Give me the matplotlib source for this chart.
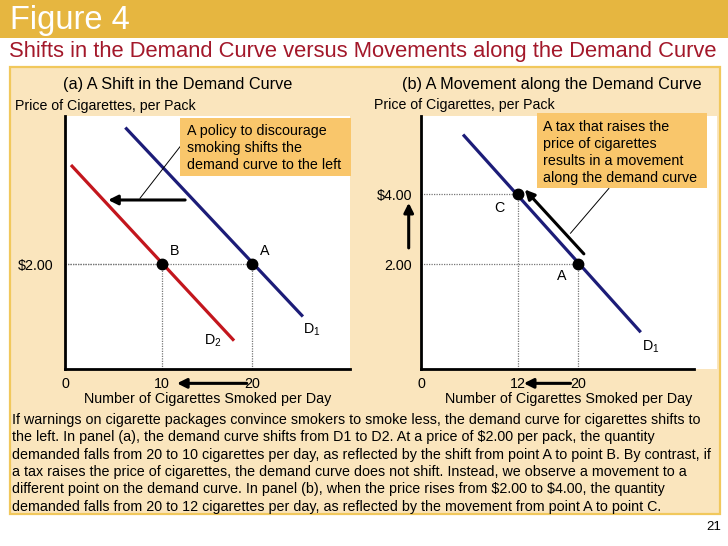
import matplotlib
matplotlib.use('Agg')
import matplotlib.pyplot as plt
from matplotlib.patches import Rectangle

plt.rcParams['font.family'] = ['Liberation Sans', 'DejaVu Sans']

W, H = 728, 546

# panel (a): shift of the demand curve
qty_ticks_a = [0, 10, 20]
price_ticks_a = [2.0]
price_labels_a = ['$2.00']
d1_a_q = [6.0, 25.6]
d1_a_p = [5.9, 0.5]
d2_a_q = [0.0, 18.0]
d2_a_p = [4.83, -0.19]
pts_a_q = [20, 10]
pts_a_p = [2.0, 2.0]
pts_a_names = ['A', 'B']
note_a = 'A policy to discourage\nsmoking shifts the\ndemand curve to the left'

# panel (b): movement along the demand curve
qty_ticks_b = [0, 12, 20]
price_ticks_b = [2.0, 4.0]
price_labels_b = ['2.00', '$4.00']
d1_b_q = [4.75, 28.3]
d1_b_p = [5.7, 0.05]
pts_b_q = [20, 12]
pts_b_p = [2.0, 4.0]
pts_b_names = ['A', 'C']
note_b = 'A tax that raises the\nprice of cigarettes\nresults in a movement\nalong the demand curve'

caption = ("If warnings on cigarette packages convince smokers to smoke less, the demand curve for cigarettes shifts to\n"
           "the left. In panel (a), the demand curve shifts from D1 to D2. At a price of \\$2.00 per pack, the quantity\n"
           "demanded falls from 20 to 10 cigarettes per day, as reflected by the shift from point A to point B. By contrast, if\n"
           "a tax raises the price of cigarettes, the demand curve does not shift. Instead, we observe a movement to a\n"
           "different point on the demand curve. In panel (b), when the price rises from \\$2.00 to \\$4.00, the quantity\n"
           "demanded falls from 20 to 12 cigarettes per day, as reflected by the movement from point A to point C.")

GOLD = '#E6B640'
TAN = '#FAE5BD'
NOTE = '#F9C66B'
NAVY = '#1C1C78'
RED = '#C3161D'
DARKRED = '#A3182A'


def fx(x):
    return x / W


def fy(y):
    return 1 - y / H


def px_rect(l, t, r, b):
    return [l / W, 1 - b / H, (r - l) / W, (b - t) / H]


def setup_axes(ax, xlim, ylim, xticks, yticks, ylabels, ypad, xend=None):
    ax.set_xlim(*xlim)
    ax.set_ylim(*ylim)
    ax.set_facecolor('white')
    for s in ['top', 'right']:
        ax.spines[s].set_visible(False)
    for s in ['left', 'bottom']:
        ax.spines[s].set_linewidth(2.0)
    if xend is not None:
        ax.spines['bottom'].set_bounds(xlim[0], xend)
    ax.set_xticks([xlim[0] if q == 0 else q for q in xticks])
    ax.set_xticklabels([str(q) for q in xticks])
    ax.set_yticks(yticks)
    ax.set_yticklabels(ylabels)
    ax.tick_params(axis='x', length=0, pad=5.8, labelsize=10.3)
    ax.tick_params(axis='y', length=0, pad=ypad, labelsize=10.3)
    ax.set_xlabel('Number of Cigarettes Smoked per Day', fontsize=10.3, labelpad=0.5)


def arrow(ax, tail, head):
    ax.annotate('', xy=head, xytext=tail, annotation_clip=False,
                arrowprops=dict(arrowstyle='-|>', lw=2.2, color='black',
                                mutation_scale=14, shrinkA=0, shrinkB=0))


def guides(ax, q, p, xlo, ylo):
    ax.plot([xlo, q], [p, p], ls=(0, (1, 1)), color='#777777', lw=0.9, zorder=1)
    ax.plot([q, q], [ylo, p], ls=(0, (1, 1)), color='#777777', lw=0.9, zorder=1)


fig = plt.figure(figsize=(W / 100, H / 100), dpi=100)
fig.patch.set_facecolor('white')

fig.patches.append(Rectangle((0, fy(38)), 1, 38 / H, transform=fig.transFigure,
                             facecolor=GOLD, edgecolor='none', zorder=-2))
fig.patches.append(Rectangle((fx(10), fy(514)), (720 - 10) / W, (514 - 67) / H,
                             transform=fig.transFigure, facecolor=TAN,
                             edgecolor='#F1C85C', lw=1.6, zorder=-2))

fig.text(fx(10), fy(20), 'Figure 4', color='white', fontsize=23.5, va='center', ha='left')
fig.text(fx(9), fy(52), 'Shifts in the Demand Curve versus Movements along the Demand Curve',
         color=DARKRED, fontsize=15.8, va='center', ha='left')

fig.text(fx(178), fy(84), '(a) A Shift in the Demand Curve', fontsize=11.7, ha='center', va='center')
fig.text(fx(552), fy(84), '(b) A Movement along the Demand Curve', fontsize=11.7, ha='center', va='center')
fig.text(fx(15), fy(106), 'Price of Cigarettes, per Pack', fontsize=10.2, ha='left', va='center')
fig.text(fx(374), fy(105), 'Price of Cigarettes, per Pack', fontsize=10.2, ha='left', va='center')

fig.text(fx(12), fy(413), caption, fontsize=10.3, ha='left', va='top', linespacing=1.3)
fig.text(fx(721), fy(527), '21', fontsize=9.5, ha='right', va='center')

# ---- panel (a)
ax = fig.add_axes(px_rect(65, 116, 350, 369))
xlo_a, ylo = -0.66, -1.0
setup_axes(ax, (xlo_a, 30.8), (ylo, 6.23), qty_ticks_a, price_ticks_a, price_labels_a, 8.6)
for q, p in zip(pts_a_q, pts_a_p):
    guides(ax, q, p, xlo_a, ylo)
ax.plot(d1_a_q, d1_a_p, color=NAVY, lw=2.3, solid_capstyle='butt', zorder=2)
ax.plot(d2_a_q, d2_a_p, color=RED, lw=2.3, solid_capstyle='butt', zorder=2)
ax.plot(pts_a_q, pts_a_p, 'o', color='black', ms=7.5, zorder=3)
for q, p, n in zip(pts_a_q, pts_a_p, pts_a_names):
    ax.annotate(n, (q, p), xytext=(13, 13), textcoords='offset pixels',
                ha='center', va='center', fontsize=10.3)
ax.text(26.6, 0.12, r'D$_{\mathregular{1}}$', fontsize=10.3, ha='center', va='center')
ax.text(15.7, -0.2, r'D$_{\mathregular{2}}$', fontsize=10.3, ha='center', va='center')
ax.add_patch(Rectangle((12.03, 4.51), 30.87 - 12.03, 6.17 - 4.51, facecolor=NOTE,
                       edgecolor='none', clip_on=False, zorder=4))
ax.text(12.8, 6.0, note_a, fontsize=10.3, ha='left', va='top', linespacing=1.25, zorder=5)
ax.plot([7.62, 12.33], [3.88, 5.45], color='black', lw=0.7, zorder=3)
arrow(ax, (12.6, 3.83), (4.1, 3.83))
arrow(ax, (19.4, -1.41), (11.7, -1.41))

# ---- panel (b)
bx = fig.add_axes(px_rect(421, 116, 717, 369))
xlo_b = -0.82
setup_axes(bx, (xlo_b, 38.4), (ylo, 6.23), qty_ticks_b, price_ticks_b, price_labels_b, 6.5, xend=35.3)
for q, p in zip(pts_b_q, pts_b_p):
    guides(bx, q, p, xlo_b, ylo)
bx.plot(d1_b_q, d1_b_p, color=NAVY, lw=2.3, solid_capstyle='butt', zorder=2)
bx.plot(pts_b_q, pts_b_p, 'o', color='black', ms=7.5, zorder=3)
for q, p, n, off in zip(pts_b_q, pts_b_p, pts_b_names, [(-16, -12), (-18, -14)]):
    bx.annotate(n, (q, p), xytext=off, textcoords='offset pixels',
                ha='center', va='center', fontsize=10.3)
bx.text(29.6, -0.36, r'D$_{\mathregular{1}}$', fontsize=10.3, ha='center', va='center')
bx.add_patch(Rectangle((14.56, 4.16), 37.03 - 14.56, 6.31 - 4.16, facecolor=NOTE,
                       edgecolor='none', clip_on=False, zorder=4))
bx.text(15.4, 6.12, note_b, fontsize=10.3, ha='left', va='top', linespacing=1.28, zorder=5)
bx.plot([18.99, 24.07], [2.88, 4.16], color='black', lw=0.7, zorder=3)
arrow(bx, (20.76, 2.29), (12.93, 4.13))
arrow(bx, (19.0, -1.41), (12.8, -1.41))
arrow(bx, (-2.45, 2.46), (-2.45, 3.75))

fig.savefig('out.png', dpi=100, facecolor=fig.get_facecolor())
